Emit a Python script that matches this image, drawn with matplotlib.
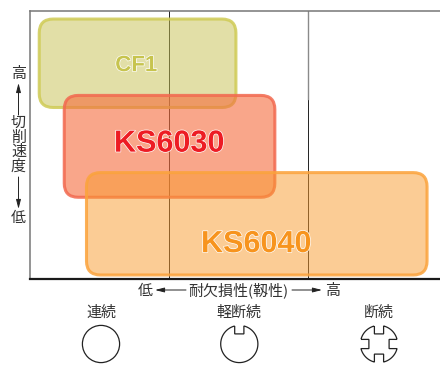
import numpy as np
import matplotlib
matplotlib.use("Agg")
import matplotlib.pyplot as plt
import matplotlib.patheffects as pe
from matplotlib.patches import FancyBboxPatch, PathPatch, Circle
from matplotlib.path import Path

W, H = 440, 365
JP = ['Noto Sans CJK JP', 'DejaVu Sans']
LAT = ['Liberation Sans', 'DejaVu Sans']

# Grade regions: toughness (x, grid units) and cutting speed (y, 0..1)
grades = ['CF1', 'KS6030', 'KS6040']
tough_lo = [0.065, 0.245, 0.405]
tough_hi = [1.480, 1.760, 2.855]
speed_lo = [0.640, 0.305, 0.015]
speed_hi = [0.970, 0.685, 0.397]
fills = ['#C7C151', '#F56B3C', '#F99B2D']
fill_alpha = [0.5, 0.6, 0.5]
edges = ['#CFCB55', '#F2694F', '#FBA33C']
text_colors = ['#C7C44E', '#ED1C24', '#F7941E']
label_x = [0.763, 1.0, 1.626]
label_y = [0.796, 0.505, 0.130]
label_size = [16, 22, 22]

x_ticks = [1, 2]
processes = ['連続', '軽断続', '断続']
process_notches = [[], [90], [0, 90, 180, 270]]
process_x = [101, 239.3, 379]

fig = plt.figure(figsize=(W / 100, H / 100), dpi=100, facecolor='white')
L, R, T, B = 30.2, 440, 11, 279
ax = fig.add_axes([L / W, 1 - B / H, (R - L) / W, (B - T) / H])
ax.set_xlim(0, (R - L) / 139)
ax.set_ylim(0, 1)
ax.set_xticks([]); ax.set_yticks([])
ax.spines['right'].set_visible(False)
for s in ('left', 'top'):
    ax.spines[s].set_color('#777777'); ax.spines[s].set_linewidth(1.1)
ax.spines['bottom'].set_color('#1a1a1a'); ax.spines['bottom'].set_linewidth(1.6)

for t in x_ticks:
    ax.axvline(t, color='#222222', lw=0.7, zorder=1)
ax.plot([2, 2], [0.67, 1], color='#8a8a8a', lw=1.0, zorder=1.1)

for i in range(3):
    common = dict(boxstyle='round,pad=0,rounding_size=0.1', mutation_aspect=139 / (B - T))
    xy = (tough_lo[i], speed_lo[i]); w = tough_hi[i] - tough_lo[i]; h = speed_hi[i] - speed_lo[i]
    ax.add_patch(FancyBboxPatch(xy, w, h, fc=fills[i], alpha=fill_alpha[i], ec='none', zorder=2 + i, **common))
    ax.add_patch(FancyBboxPatch(xy, w, h, fc='none', ec=edges[i], lw=2.2, alpha=0.85, zorder=2.5 + i, **common))
for i in range(3):
    ax.text(label_x[i], label_y[i], grades[i], color=text_colors[i], fontsize=label_size[i],
            family=LAT, weight='bold', ha='center', va='center', zorder=8,
            path_effects=[pe.withStroke(linewidth=1.0, foreground='white')])

ov = fig.add_axes([0, 0, 1, 1], facecolor='none')
ov.set_xlim(0, W); ov.set_ylim(H, 0); ov.axis('off')
TC = '#333333'

def label(x, y, s, size=10.8):
    ov.text(x, y, s, family=JP, fontsize=size, color=TC, ha='center', va='center')

def arrow(x0, y0, x1, y1):
    ov.annotate('', xy=(x1, y1), xytext=(x0, y0),
                arrowprops=dict(arrowstyle='-|>,head_length=0.55,head_width=0.14', lw=0.7,
                                color='#222222', shrinkA=0, shrinkB=0))

# Vertical axis label
label(18.5, 74, '高')
arrow(18.5, 115, 18.5, 83)
for y, ch in zip([123, 138, 152, 167], '切削速度'):
    label(18.5, y, ch)
arrow(18.5, 177, 18.5, 209)
label(18.5, 218, '低')

# Horizontal axis label
label(145.5, 290.5, '低')
arrow(186, 290, 155, 290)
label(238.5, 290.5, '耐欠損性(靱性)')
arrow(292, 290, 322, 290)
label(333, 290.5, '高')

def icon_path(cx, cy, r, notches, hw=4.6, depth=8.5):
    verts = []
    half = np.degrees(np.arcsin(hw / r))
    ns = sorted(notches)
    for k, a in enumerate(ns):
        nxt = ns[(k + 1) % len(ns)] + (360 if k == len(ns) - 1 else 0)
        rad = np.radians(a)
        u = np.array([np.cos(rad), np.sin(rad)]); v = np.array([-u[1], u[0]])
        c = np.array([cx, cy])
        ro = np.sqrt(r * r - hw * hw)
        verts += [c + u * ro - v * hw, c + u * (r - depth) - v * hw,
                  c + u * (r - depth) + v * hw, c + u * ro + v * hw]
        arc = np.radians(np.linspace(a + half, nxt - half, 60))
        verts += [np.array([cx + r * np.cos(t), cy + r * np.sin(t)]) for t in arc]
    codes = [Path.MOVETO] + [Path.LINETO] * (len(verts) - 1)
    return Path(np.array(verts), codes)

for name, nt, px in zip(processes, process_notches, process_x):
    label(px, 312.5, name)
    if nt:
        p = icon_path(px, 344, 18.6, [(-a) % 360 for a in nt])
        ov.add_patch(PathPatch(p, fc='white', ec='#222222', lw=0.9))
    else:
        ov.add_patch(Circle((px, 344), 18.6, fc='white', ec='#222222', lw=0.9))

fig.savefig('out.png', dpi=100, facecolor='white')
